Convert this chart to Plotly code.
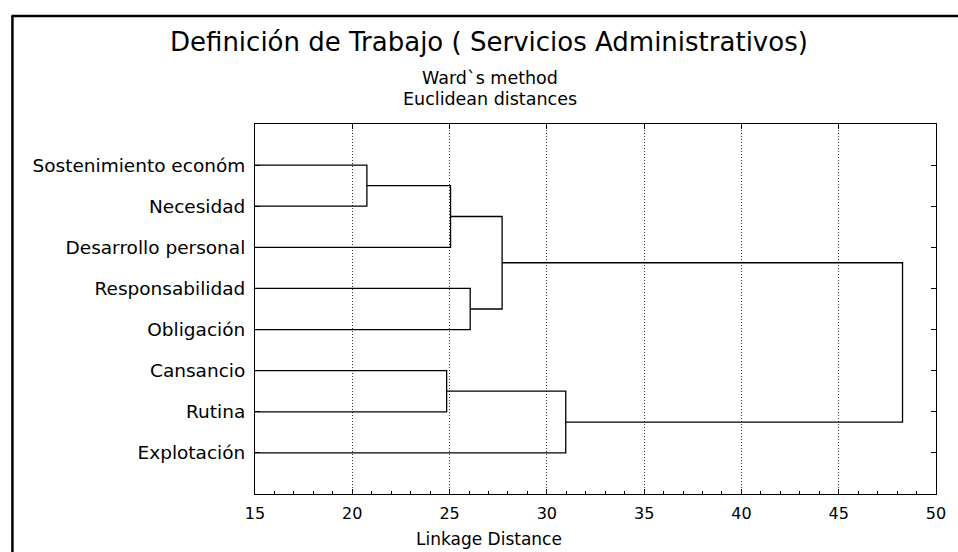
import plotly.graph_objects as go

# ---- data ----
labels = ["Sostenimiento económ", "Necesidad", "Desarrollo personal", "Responsabilidad",
          "Obligación", "Cansancio", "Rutina", "Explotación"]
# Ward linkage: node ids 0-7 are leaves, 8+ are clusters in order of creation
link_a = [0, 5, 8, 3, 10, 9, 12]
link_b = [1, 6, 2, 4, 11, 7, 13]
link_dist = [20.75, 24.85, 25.05, 26.06, 27.70, 30.97, 48.28]
x_ticks = [15, 20, 25, 30, 35, 40, 45, 50]

title = "Definición de Trabajo ( Servicios Administrativos)"
sub1 = "Ward`s method"
sub2 = "Euclidean distances"
xtitle = "Linkage Distance"

FONT = "DejaVu Sans"
x_min = x_ticks[0]

# ---- build dendrogram segments ----
pos = {i: i + 1 for i in range(len(labels))}
height = {i: x_min for i in range(len(labels))}
fig = go.Figure()
n = len(labels)
for k, (a, b, d) in enumerate(zip(link_a, link_b, link_dist)):
    node = n + k
    xs = [height[a], d, d, height[b]]
    ys = [pos[a], pos[a], pos[b], pos[b]]
    fig.add_trace(go.Scatter(x=xs, y=ys, mode="lines",
                             line=dict(color="black", width=1.3),
                             showlegend=False, hoverinfo="skip"))
    pos[node] = (pos[a] + pos[b]) / 2
    height[node] = d

# dummy trace for top axis
fig.add_trace(go.Scatter(x=[x_ticks[0], x_ticks[-1]], y=[None, None], xaxis="x2",
                         mode="lines", showlegend=False, hoverinfo="skip"))

L, R, T, B = 255, 18, 124, 58
W, H = 958, 552
pw, ph = W - L - R, H - T - B

def px(xp):
    return (xp - L) / pw

def py(yp):
    return (H - B - yp) / ph

fig.update_layout(
    width=W, height=H,
    margin=dict(l=L, r=R, t=T, b=B),
    paper_bgcolor="white", plot_bgcolor="white",
    font=dict(family=FONT, color="black"),
    xaxis=dict(range=[x_ticks[0], x_ticks[-1]], tickvals=x_ticks,
               ticktext=[str(v) for v in x_ticks],
               ticks="inside", ticklen=5, tickcolor="black",
               minor=dict(dtick=1, ticks="inside", ticklen=3, tickcolor="black", showgrid=False),
               showgrid=True, gridcolor="#333", griddash="1px,2px", gridwidth=1,
               showline=True, linecolor="black", linewidth=1, mirror=True,
               zeroline=False, tickfont=dict(family=FONT, size=16, color="black"),
               ticklabelstandoff=5),
    xaxis2=dict(overlaying="x", side="top", matches="x", tickvals=x_ticks,
                ticks="inside", ticklen=5, tickcolor="black",
                showticklabels=False, showgrid=False, showline=False, zeroline=False),
    yaxis=dict(range=[9, 0], tickvals=list(range(1, n + 1)), ticktext=labels,
               ticks="inside", ticklen=5, tickcolor="black",
               showgrid=False, zeroline=False,
               showline=True, linecolor="black", linewidth=1, mirror="ticks",
               tickfont=dict(family=FONT, size=18.5, color="black"),
               ticklabelstandoff=5),
    annotations=[
        dict(text=title, x=px(490), y=py(42), xref="paper", yref="paper",
             xanchor="center", yanchor="middle", showarrow=False,
             font=dict(family=FONT, size=26, color="black")),
        dict(text=sub1, x=px(491), y=py(78), xref="paper", yref="paper",
             xanchor="center", yanchor="middle", showarrow=False,
             font=dict(family=FONT, size=17.5, color="black")),
        dict(text=sub2, x=px(491), y=py(99), xref="paper", yref="paper",
             xanchor="center", yanchor="middle", showarrow=False,
             font=dict(family=FONT, size=17.5, color="black")),
        dict(text=xtitle, x=px(490), y=py(539), xref="paper", yref="paper",
             xanchor="center", yanchor="middle", showarrow=False,
             font=dict(family=FONT, size=17, color="black")),
    ],
    shapes=[
        dict(type="line", xref="paper", yref="paper", x0=px(11), x1=px(11),
             y0=py(560), y1=py(16), line=dict(color="black", width=2.5)),
        dict(type="line", xref="paper", yref="paper", x0=px(10), x1=px(970),
             y0=py(16), y1=py(16), line=dict(color="black", width=2.5)),
    ],
)

fig.write_html("out.html", config={"displayModeBar": False},
               post_script="document.body.style.margin='0';document.body.style.overflow='hidden';")
